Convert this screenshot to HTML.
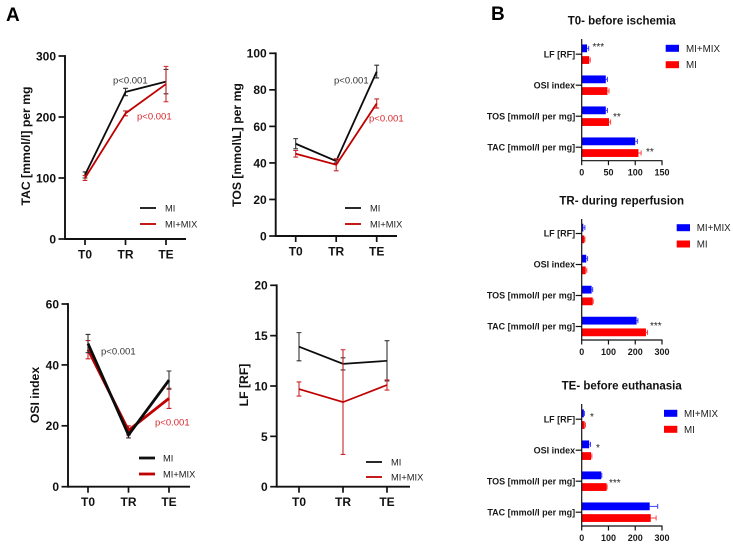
<!DOCTYPE html>
<html>
<head>
<meta charset="utf-8">
<title>Chart</title>
<style>
html,body{margin:0;padding:0;background:#fff;width:733px;height:546px;overflow:hidden}
svg{display:block;font-family:"Liberation Sans",sans-serif;filter:blur(0.25px)}
.ttl{font-size:12.2px;font-weight:bold;fill:#111;text-anchor:middle}
.lg{font-size:9.3px;fill:#222}
.lgb{font-size:9.8px;fill:#222}
.pb{font-size:9.5px;fill:#333}
.pr{font-size:9.5px;fill:#d8262c}
.bt{font-size:11.5px;font-weight:bold;fill:#111;text-anchor:middle}
.st{font-size:10px;fill:#222}
.pn{font-size:19px;font-weight:bold;fill:#000}
</style>
</head>
<body>
<svg id="fig" width="733" height="546" viewBox="0 0 733 546" xmlns="http://www.w3.org/2000/svg">
<rect width="733" height="546" fill="#fff"/>
<text class="pn" x="6" y="21">A</text>
<text class="pn" x="491" y="20">B</text>

<g id="tac">
<text class="ttl" transform="translate(30,146) rotate(-90)">TAC [mmol/l] per mg</text>
<text class="pb" x="113" y="83.5">p&lt;0.001</text>
<text class="pr" x="137" y="119.5">p&lt;0.001</text>
<line x1="140" x2="156" y1="208" y2="208" stroke="#111" stroke-width="1.8"/>
<text class="lg" x="165" y="211.5">MI</text>
<line x1="140" x2="156" y1="224" y2="224" stroke="#c00000" stroke-width="1.8"/>
<text class="lg" x="165" y="227.5">MI+MIX</text>
</g>

<g id="tos">
<text class="ttl" transform="translate(241,145) rotate(-90)">TOS [mmol\L] per mg</text>
<text class="pb" x="334" y="83.5">p&lt;0.001</text>
<text class="pr" x="369" y="121.5">p&lt;0.001</text>
<line x1="345" x2="361" y1="208" y2="208" stroke="#111" stroke-width="1.8"/>
<text class="lg" x="370" y="211.5">MI</text>
<line x1="345" x2="361" y1="224" y2="224" stroke="#c00000" stroke-width="1.8"/>
<text class="lg" x="370" y="227.5">MI+MIX</text>
</g>

<g id="osi">
<text class="ttl" transform="translate(39,395) rotate(-90)">OSI index</text>
<text class="pb" x="101" y="354.5">p&lt;0.001</text>
<text class="pr" x="155" y="425.5">p&lt;0.001</text>
<line x1="139" x2="155" y1="458" y2="458" stroke="#111" stroke-width="2.8"/>
<text class="lg" x="163" y="461.5">MI</text>
<line x1="139" x2="155" y1="474" y2="474" stroke="#c00000" stroke-width="2.8"/>
<text class="lg" x="163" y="477.5">MI+MIX</text>
</g>

<g id="lf">
<text class="ttl" transform="translate(248,385) rotate(-90)">LF [RF]</text>
<line x1="366" x2="382" y1="462" y2="462" stroke="#111" stroke-width="1.8"/>
<text class="lg" x="391" y="465.5">MI</text>
<line x1="366" x2="382" y1="477" y2="477" stroke="#c00000" stroke-width="1.8"/>
<text class="lg" x="391" y="480.5">MI+MIX</text>
</g>

<g id="b1">
<text class="bt" x="621.7" y="24.7">T0- before ischemia</text>
<rect x="665.7" y="44.8" width="13.3" height="7" fill="#0000ff"/>
<text class="lgb" x="686" y="51.8">MI+MIX</text>
<rect x="665.7" y="61.2" width="13.3" height="7" fill="#ff0000"/>
<text class="lgb" x="686" y="68.2">MI</text>
<text class="st" x="592.5" y="50">***</text>
<text class="st" x="613" y="120">**</text>
<text class="st" x="646" y="155">**</text>
</g>

<g id="b2">
<text class="bt" x="621.7" y="204.5">TR- during reperfusion</text>
<rect x="676.7" y="224.2" width="13.3" height="7" fill="#0000ff"/>
<text class="lgb" x="696.7" y="231.2">MI+MIX</text>
<rect x="676.7" y="240.5" width="13.3" height="7" fill="#ff0000"/>
<text class="lgb" x="696.7" y="247.5">MI</text>
<text class="st" x="650" y="329">***</text>
</g>

<g id="b3">
<text class="bt" x="621.7" y="389.5">TE- before euthanasia</text>
<rect x="664" y="409.8" width="13.3" height="7" fill="#0000ff"/>
<text class="lgb" x="684" y="416.8">MI+MIX</text>
<rect x="664" y="425.8" width="13.3" height="7" fill="#ff0000"/>
<text class="lgb" x="684" y="432.8">MI</text>
<text class="st" x="590" y="420">*</text>
<text class="st" x="596" y="451">*</text>
<text class="st" x="609" y="486">***</text>
</g>
</svg>

<script>
// ---- line chart data ----
const timepoints = ['T0', 'TR', 'TE'];
const tacTicks = [0, 100, 200, 300];
const tacMi = [105, 241, 258];
const tacMiErr = [5, 6, 20];
const tacMix = [100, 206, 254];
const tacMixErr = [4, 4, 29];
const tosTicks = [0, 20, 40, 60, 80, 100];
const tosMi = [50.5, 41, 90];
const tosMiErr = [2.8, 1, 3.5];
const tosMix = [45, 39, 72.5];
const tosMixErr = [1.8, 3.3, 2.5];
const osiTicks = [0, 20, 40, 60];
const osiMi = [47, 17, 35];
const osiMiErr = [3, 1, 3];
const osiMix = [45, 18.5, 29];
const osiMixErr = [3, 1.5, 3.3];
const lfTicks = [0, 5, 10, 15, 20];
const lfMi = [13.9, 12.2, 12.5];
const lfMiErr = [1.4, 0.6, 2];
const lfMix = [9.7, 8.4, 10.1];
const lfMixErr = [0.7, 5.2, 0.5];

// ---- bar chart data ----
const barCategories = ['LF [RF]', 'OSI index', 'TOS [mmol/l per mg]', 'TAC [mmol/l per mg]'];
const t0Ticks = [0, 50, 100, 150];
const t0Mix = [10, 45, 45, 100];
const t0MixErr = [3, 3, 3, 4];
const t0Mi = [14, 48, 51, 106];
const t0MiErr = [2, 3, 3, 5];
const trTicks = [0, 100, 200, 300];
const trMix = [6, 17, 37, 205];
const trMixErr = [6, 5, 4, 5];
const trMi = [10, 15, 41, 240];
const trMiErr = [2, 4, 2, 6];
const teTicks = [0, 100, 200, 300];
const teMix = [8, 28, 73, 254];
const teMixErr = [2, 5, 2, 30];
const teMi = [11, 35, 93, 258];
const teMiErr = [3, 3, 2, 20];

const NS = 'http://www.w3.org/2000/svg';
function mk(parent, tag, attrs, txt) {
  const el = document.createElementNS(NS, tag);
  for (const k in attrs) el.setAttribute(k, attrs[k]);
  if (txt !== undefined) el.textContent = txt;
  parent.appendChild(el);
  return el;
}

function lineChart(id, ticks, miV, miE, mixV, mixE, g) {
  const root = document.getElementById(id);
  const maxY = ticks[ticks.length - 1];
  const y = v => g.bottom - (v / maxY) * (g.bottom - g.top);
  const x = i => g.first + i * g.step;
  const ink = '#111';

  const yAxis = mk(root, 'line', {x1: g.axis, x2: g.axis, y1: g.top - 0.9, y2: g.bottom + 0.9, stroke: ink, 'stroke-width': 1.9});
  
  
  const xAxis = mk(root, 'line', {x1: g.axis, x2: g.end, y1: g.bottom, y2: g.bottom, stroke: ink, 'stroke-width': 1.9});
  
  

  ticks.forEach(t => {
    const m = mk(root, 'line', {x1: g.axis - 6.5, x2: g.axis, y1: y(t), y2: y(t), stroke: ink, 'stroke-width': 1.7});
    
    
    const l = mk(root, 'text', {x: g.axis - 9, y: y(t) + 4.4, 'text-anchor': 'end', 'font-size': 12, 'font-weight': 'bold', fill: ink}, String(t));
    
    
  });
  timepoints.forEach((c, i) => {
    const m = mk(root, 'line', {x1: x(i), x2: x(i), y1: g.bottom, y2: g.bottom + 6, stroke: ink, 'stroke-width': 1.7});
    
    
    const l = mk(root, 'text', {x: x(i), y: g.bottom + 19.5, 'text-anchor': 'middle', 'font-size': 12, 'font-weight': 'bold', fill: ink}, c);
    
    
  });

  function series(vals, errs, col, errCol, name) {
    const grp = mk(root, 'g', {});
    
    
    vals.forEach((v, i) => {
      const e = errs[i];
      const c = x(i);
      const s = mk(grp, 'path', {
        d: 'M' + c + ' ' + y(v + e) + 'V' + y(v - e) +
           'M' + (c - 2.4) + ' ' + y(v + e) + 'H' + (c + 2.4) +
           'M' + (c - 2.4) + ' ' + y(v - e) + 'H' + (c + 2.4),
        fill: 'none', stroke: errCol, 'stroke-width': 1.1});
      
      
    });
    const pts = vals.map((v, i) => x(i) + ',' + y(v)).join(' ');
    const p = mk(grp, 'polyline', {points: pts, fill: 'none', stroke: col, 'stroke-width': g.width});
    
    
  }
  if (g.blackOnTop) {
    series(mixV, mixE, '#c00000', '#c8272c', 'mi-mix');
    series(miV, miE, '#0c0c0c', '#333', 'mi');
  } else {
    series(miV, miE, '#0c0c0c', '#333', 'mi');
    series(mixV, mixE, '#c00000', '#c8272c', 'mi-mix');
  }
}

lineChart('tac', tacTicks, tacMi, tacMiErr, tacMix, tacMixErr, {axis: 65, end: 186, top: 56, bottom: 239, first: 85, step: 40.5, width: 1.8});
lineChart('tos', tosTicks, tosMi, tosMiErr, tosMix, tosMixErr, {axis: 275.7, end: 397, top: 53.3, bottom: 236, first: 295.7, step: 40.5, width: 1.8});
lineChart('osi', osiTicks, osiMi, osiMiErr, osiMix, osiMixErr, {axis: 68, end: 190, top: 304, bottom: 486.7, first: 88, step: 40.5, width: 2.8, blackOnTop: true});
lineChart('lf', lfTicks, lfMi, lfMiErr, lfMix, lfMixErr, {axis: 276.7, end: 410, top: 285.3, bottom: 486.7, first: 299, step: 44, width: 1.7});

function barChart(id, ticks, mixV, mixE, miV, miE, g) {
  const root = document.getElementById(id);
  const maxX = ticks[ticks.length - 1];
  const x0 = 581.7, x1 = 662;
  const x = v => x0 + (v / maxX) * (x1 - x0);
  const ink = '#111';
  const centre = i => g.first + i * g.band;

  barCategories.forEach((c, i) => {
    const cy = centre(i);
    const bMix = mk(root, 'rect', {x: x0, y: cy - 5.85 - 3.9, width: x(mixV[i]) - x0, height: 7.8, fill: '#0000ff'});
    
    
    const bMi = mk(root, 'rect', {x: x0, y: cy + 5.85 - 3.9, width: x(miV[i]) - x0, height: 7.8, fill: '#ff0000'});
    
    
    const eMix = mk(root, 'path', {
      d: 'M' + x(mixV[i]) + ' ' + (cy - 5.85) + 'H' + x(mixV[i] + mixE[i]) +
         'M' + x(mixV[i] + mixE[i]) + ' ' + (cy - 8.35) + 'V' + (cy - 3.35),
      fill: 'none', stroke: '#3a3aff', 'stroke-width': 1});
    
    
    const eMi = mk(root, 'path', {
      d: 'M' + x(miV[i]) + ' ' + (cy + 5.85) + 'H' + x(miV[i] + miE[i]) +
         'M' + x(miV[i] + miE[i]) + ' ' + (cy + 3.35) + 'V' + (cy + 8.35),
      fill: 'none', stroke: '#ff4040', 'stroke-width': 1});
    
    
    const tk = mk(root, 'line', {x1: x0 - 6, x2: x0, y1: cy, y2: cy, stroke: ink, 'stroke-width': 1.2});
    
    
    const lb = mk(root, 'text', {x: x0 - 6.5, y: cy + 3.2, 'text-anchor': 'end', 'font-size': 9, 'font-weight': 'bold', fill: '#1a1a1a'}, c);
    
    
  });

  const yAxis = mk(root, 'line', {x1: x0, x2: x0, y1: g.top, y2: g.bottom, stroke: ink, 'stroke-width': 1.2});
  
  
  const xAxis = mk(root, 'line', {x1: x0 - 0.5, x2: x1 + 0.5, y1: g.bottom, y2: g.bottom, stroke: ink, 'stroke-width': 1.2});
  
  

  ticks.forEach(t => {
    const m = mk(root, 'line', {x1: x(t), x2: x(t), y1: g.bottom, y2: g.bottom + 4.5, stroke: ink, 'stroke-width': 1.2});
    
    
    const l = mk(root, 'text', {x: x(t), y: g.bottom + 15, 'text-anchor': 'middle', 'font-size': 9, 'font-weight': 'bold', fill: '#1a1a1a'}, String(t));
    
    
  });
}

barChart('b1', t0Ticks, t0Mix, t0MixErr, t0Mi, t0MiErr, {top: 39, bottom: 160.7, first: 54.2, band: 31});
barChart('b2', trTicks, trMix, trMixErr, trMi, trMiErr, {top: 219, bottom: 340, first: 233.5, band: 31});
barChart('b3', teTicks, teMix, teMixErr, teMi, teMiErr, {top: 404, bottom: 526, first: 419.2, band: 31});
</script>
</body>
</html>
